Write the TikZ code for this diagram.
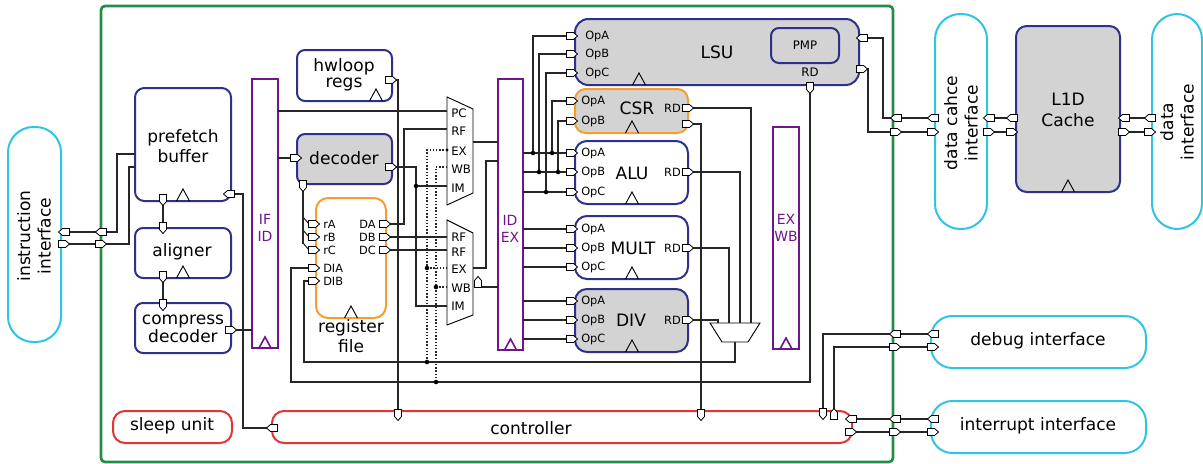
\documentclass[tikz,border=0pt]{standalone}
\usepackage{fontspec}
\setmainfont{DejaVu Sans}
\usetikzlibrary{fit}
\definecolor{cgreen}{RGB}{38,138,72}
\definecolor{cblue}{RGB}{46,49,140}
\definecolor{corange}{RGB}{247,157,48}
\definecolor{cred}{RGB}{226,52,52}
\definecolor{ccyan}{RGB}{48,196,228}
\definecolor{cpurp}{RGB}{112,20,140}
\definecolor{cgray}{RGB}{211,211,211}
\tikzset{
 blkbox/.style={draw=cblue, line width=1.5pt, rounded corners=7pt, inner sep=0pt, outer sep=0pt},
 grbox/.style={blkbox, fill=cgray},
 orbox/.style={blkbox, draw=corange},
 rdbox/.style={blkbox, draw=cred, rounded corners=9pt},
 cybox/.style={draw=ccyan, line width=1.5pt, inner sep=0pt, outer sep=0pt},
 prbox/.style={draw=cpurp, line width=1.9pt, inner sep=0pt, outer sep=0pt},
 wire/.style={draw=black!85, line width=0.8pt},
 dwire/.style={wire, dash pattern=on 1pt off 1.4pt},
 bigtxt/.style={font=\fontsize{12.8}{15.5}\selectfont, align=center, inner sep=0pt},
 tighttxt/.style={font=\fontsize{12.8}{12}\selectfont, align=center, inner sep=0pt},
 smtxt/.style={font=\fontsize{8.5}{9}\selectfont, inner sep=0pt},
 muxtxt/.style={font=\fontsize{8.8}{9}\selectfont, inner sep=0pt, anchor=west},
 regtxt/.style={font=\fontsize{10.5}{12.8}\selectfont, text=cpurp, align=center, inner sep=0pt},
 port/.pic={\draw[line width=0.6pt, fill=white, draw=black] (-5.5,-3.5) -- (1.5,-3.5) -- (5.5,0) -- (1.5,3.5) -- (-5.5,3.5) -- cycle;},
 clk/.pic={\draw[line width=0.7pt] (-6.5,0) -- (0,-12) -- (6.5,0);},
 pclk/.pic={\draw[draw=cpurp, line width=1.2pt] (-6,0) -- (0,-11) -- (6,0);},
}
\newcommand\portE[1]{\pic at (#1) {port};}
\newcommand\portW[1]{\pic[rotate=180] at (#1) {port};}
\newcommand\portS[1]{\pic[rotate=-90] at (#1) {port};}
\newcommand\portN[1]{\pic[rotate=90] at (#1) {port};}
\newcommand\jdot[1]{\fill (#1) circle[radius=1.7pt];}
\begin{document}
\begin{tikzpicture}[x=0.75pt,y=-0.75pt]
\useasboundingbox (0,0) rectangle (1203,464);

% ---------- boxes ----------
\node[fit={(101,6)(893,462)}, draw=cgreen, line width=2pt, rounded corners=3pt, inner sep=0pt, outer sep=0pt] (core) {};
\node[cybox, rounded corners=19pt, fit={(8,127)(61,342)}] (iif) {};
\node[blkbox, fit={(135,88)(231,201)}] (pref) {};
\node[blkbox, rounded corners=6pt, fit={(135,228)(231,278)}] (align) {};
\node[blkbox, rounded corners=6pt, fit={(135,303)(231,353)}] (cdec) {};
\node[prbox, fit={(252,79)(278,348)}] (ifid) {};
\node[blkbox, rounded corners=6pt, fit={(297,50)(392,101)}] (hwl) {};
\node[grbox, rounded corners=6pt, fit={(297,134)(392,184)}] (dec) {};
\node[orbox, rounded corners=9pt, fit={(316,198)(386,318)}] (rf) {};
\draw[line width=0.7pt, fill=white] (447,97) -- (473,109) -- (473,193) -- (447,205) -- cycle;
\coordinate (mux1) at (460,151);
\draw[line width=0.7pt, fill=white] (447,220) -- (473,233) -- (473,315) -- (447,325) -- cycle;
\coordinate (mux2) at (460,272);
\node[prbox, fit={(498,79)(523,350)}] (idex) {};
\node[grbox, rounded corners=10pt, fit={(575,19)(859,85)}] (lsu) {};
\node[grbox, rounded corners=6pt, fit={(771,28)(839,63)}] (pmp) {};
\node[orbox, fill=cgray, rounded corners=8pt, fit={(575,89)(688,133)}] (csr) {};
\node[blkbox, rounded corners=9pt, fit={(575,141)(688,204)}] (alu) {};
\node[blkbox, rounded corners=9pt, fit={(575,216)(688,279)}] (mult) {};
\node[grbox, rounded corners=9pt, fit={(575,289)(688,352)}] (div) {};
\draw[line width=0.7pt, fill=white] (710,323) -- (760,323) -- (748,342) -- (722,342) -- cycle;
\coordinate (wbmux) at (735,332);
\node[prbox, fit={(773,127)(799,349)}] (exwb) {};
\node[rdbox, fit={(272,411)(852,443)}] (ctrl) {};
\node[rdbox, fit={(113,411)(232,443)}] (sleep) {};
\node[cybox, rounded corners=16pt, fit={(931,316)(1146,368)}] (dbg) {};
\node[cybox, rounded corners=16pt, fit={(931,401)(1146,453)}] (irq) {};
\node[cybox, rounded corners=19pt, fit={(935,14)(987,229)}] (dci) {};
\node[grbox, rounded corners=8pt, fit={(1016,26)(1120,192)}] (l1d) {};
\node[cybox, rounded corners=19pt, fit={(1152,14)(1202,229)}] (dif) {};

% ---------- clocks ----------
\pic at (pref.south) {clk};
\pic at (align.south) {clk};
\pic at (376,101) {clk};
\pic at (rf.south) {clk};
\pic at (639,85) {clk};
\pic at (632,133) {clk};
\pic at (632,204) {clk};
\pic at (632,279) {clk};
\pic at (632,352) {clk};
\pic at (l1d.south) {clk};
\pic at (ifid.south) {pclk};
\pic at (idex.south) {pclk};
\pic at (exwb.south) {pclk};

% ---------- port coordinates ----------
\coordinate (ii1) at (64,232);  \coordinate (ii2) at (64,244);
\coordinate (gi1) at (101,232); \coordinate (gi2) at (101,244);
\coordinate (pfR) at (229,194); \coordinate (pfB) at (163,200);
\coordinate (alT) at (163,228); \coordinate (alB) at (163,277);
\coordinate (cdT) at (163,305); \coordinate (cdR) at (231,330);
\coordinate (decL) at (296,158); \coordinate (decR) at (391,167);
\coordinate (decB) at (303,186); \coordinate (hwR) at (391,80);
\coordinate (prA) at (314,224); \coordinate (prB) at (314,237); \coordinate (prC) at (314,250);
\coordinate (pDIA) at (314,268); \coordinate (pDIB) at (314,281);
\coordinate (pDA) at (385,224); \coordinate (pDB) at (385,237); \coordinate (pDC) at (385,250);
\coordinate (msel) at (478,282);
\coordinate (lA) at (572,36); \coordinate (lB) at (572,54); \coordinate (lC) at (572,73);
\coordinate (lO) at (862,38); \coordinate (lI) at (862,69); \coordinate (lRD) at (810,88);
\coordinate (cA) at (572,101); \coordinate (cB) at (572,121);
\coordinate (cRD) at (688,108); \coordinate (cX) at (688,124);
\coordinate (aA) at (572,153); \coordinate (aB) at (572,172); \coordinate (aC) at (572,192); \coordinate (aRD) at (688,172);
\coordinate (mA) at (572,229); \coordinate (mB) at (572,248); \coordinate (mC) at (572,267); \coordinate (mRD) at (688,248);
\coordinate (vA) at (572,301); \coordinate (vB) at (572,320); \coordinate (vC) at (572,339); \coordinate (vRD) at (688,320);
\coordinate (ct1) at (398,415); \coordinate (ct2) at (701,415);
\coordinate (ct3) at (823,414); \coordinate (ct4) at (834,414);
\coordinate (ctL) at (272,428);
\coordinate (ctR1) at (851,419); \coordinate (ctR2) at (851,432);
\coordinate (gd1) at (896,118); \coordinate (gd2) at (896,132);
\coordinate (gg1) at (895,334); \coordinate (gg2) at (895,347);
\coordinate (gq1) at (895,419); \coordinate (gq2) at (895,432);
\coordinate (dc1) at (933,118); \coordinate (dc2) at (933,132);
\coordinate (dc3) at (989,118); \coordinate (dc4) at (989,132);
\coordinate (la1) at (1012,118); \coordinate (la2) at (1012,132);
\coordinate (la3) at (1124,118); \coordinate (la4) at (1124,132);
\coordinate (di1) at (1150,118); \coordinate (di2) at (1150,132);
\coordinate (db1) at (933,334); \coordinate (db2) at (933,347);
\coordinate (iq1) at (933,419); \coordinate (iq2) at (933,432);

% ---------- wires ----------
\draw[wire] (pref.west |- 0,154) -- (117,154) -- (117,232) -- (ii1);
\draw[wire] (pref.west |- 0,167) -- (129,167) -- (129,244) -- (ii2);
\draw[wire] (pfB) -- (alT);
\draw[wire] (alB) -- (cdT);
\draw[wire] (cdR) -- (ifid.west |- cdR);
\draw[wire] (pfR) -- (243,194) -- (243,428) -- (ctL);
\draw[wire] (ifid.east |- decL) -- (decL);
\draw[wire] (ifid.east |- 0,111) -- (447,111);
\draw[wire] (hwR) -- (398,80) -- (ct1);
\draw[wire] (decR) -- (416,167) -- (416,306) -- (447,306);
\draw[wire] (416,186) -- (447,186);
\draw[wire] (decB) -- (303,244);
\draw[wire] (303,217) -- (309,224) -- (prA);
\draw[wire] (303,230) -- (309,237) -- (prB);
\draw[wire] (303,243) -- (309,250) -- (prC);
\draw[wire] (pDA) -- (404,224) -- (404,129) -- (447,129);
\draw[wire] (pDB) -- (447,237);
\draw[wire] (pDC) -- (447,250);
\draw[wire] (pDIA) -- (291,268) -- (291,382) -- (810,382) -- (lRD);
\draw[wire] (pDIB) -- (304,281) -- (304,362) -- (735,362) -- (735,342);
\draw[dwire] (447,150) -- (427,150) -- (427,362);
\draw[dwire] (427,268) -- (447,268);
\draw[dwire] (447,167) -- (436,167) -- (436,382);
\draw[dwire] (436,287) -- (447,287);
\draw[wire] (473,142) -- (idex.west |- 0,142);
\draw[wire] (473,268) -- (486,268) -- (486,161) -- (idex.west |- 0,161);
\draw[wire] (481,287) -- (idex.west |- 0,287);
\foreach \yy in {153,172,192,229,248,267,301,320,339}
  \draw[wire] (idex.east |- 0,\yy) -- (572,\yy);
\draw[wire] (lA) -- (533,36) -- (533,153);
\draw[wire] (lB) -- (539,54) -- (539,172);
\draw[wire] (lC) -- (546,73) -- (546,192);
\draw[wire] (cA) -- (552,101) -- (552,153);
\draw[wire] (cB) -- (558,121) -- (558,172);
\draw[wire] (cRD) -- (751,108) -- (751,323);
\draw[wire] (aRD) -- (740,172) -- (740,323);
\draw[wire] (mRD) -- (729,248) -- (729,323);
\draw[wire] (vRD) -- (718,320) -- (718,323);
\draw[wire] (cX) -- (701,124) -- (ct2);
\draw[wire] (lO) -- (883,38) -- (883,118) -- (dc1);
\draw[wire] (lI) -- (868,69) -- (868,132) -- (dc2);
\draw[wire] (dc3) -- (la1);
\draw[wire] (dc4) -- (la2);
\draw[wire] (la3) -- (di1);
\draw[wire] (la4) -- (di2);
\draw[wire] (db1) -- (823,334) -- (ct3);
\draw[wire] (db2) -- (834,347) -- (ct4);
\draw[wire] (ctR1) -- (iq1);
\draw[wire] (ctR2) -- (iq2);

% ---------- ports ----------
\portW{ii1} \portE{ii2} \portW{gi1} \portE{gi2}
\portW{pfR} \portS{pfB} \portS{alT} \portS{alB} \portS{cdT} \portE{cdR}
\portE{decL} \portE{decR} \portS{decB} \portE{hwR}
\portE{prA} \portE{prB} \portE{prC} \portE{pDIA} \portE{pDIB}
\portE{pDA} \portE{pDB} \portE{pDC}
\portN{msel}
\portE{lA} \portE{lB} \portE{lC} \portW{lO} \portE{lI} \portS{lRD}
\portE{cA} \portE{cB} \portE{cRD} \portE{cX}
\portE{aA} \portE{aB} \portE{aC} \portE{aRD}
\portE{mA} \portE{mB} \portE{mC} \portE{mRD}
\portE{vA} \portE{vB} \portE{vC} \portE{vRD}
\portS{ct1} \portS{ct2} \portS{ct3} \portN{ct4}
\portW{ctL} \portW{ctR1} \portE{ctR2}
\portW{gd1} \portE{gd2} \portW{gg1} \portE{gg2} \portW{gq1} \portE{gq2}
\portW{dc1} \portE{dc2} \portW{dc3} \portE{dc4}
\portW{la1} \portE{la2} \portW{la3} \portE{la4}
\portW{di1} \portE{di2}
\portW{db1} \portE{db2} \portW{iq1} \portE{iq2}

% ---------- dots ----------
\jdot{416,186} \jdot{427,268} \jdot{427,362} \jdot{436,287} \jdot{436,382}
\jdot{533,153} \jdot{552,153} \jdot{539,172} \jdot{558,172} \jdot{546,192}
\fill (447,150) circle[radius=1.2pt];

% ---------- labels ----------
\node[bigtxt, rotate=90] (tiif) at (34,236) {instruction\\interface};
\node[bigtxt] (tpref) at (183,146) {prefetch\\buffer};
\node[bigtxt] (talign) at (182,252) {aligner};
\node[tighttxt] (tcdec) at (183,329) {compress\\decoder};
\node[regtxt] (tifid) at (265,228) {IF\\ID};
\node[tighttxt] (thwl) at (344,75) {hwloop\\regs};
\node[bigtxt] (tdec) at (344,158) {decoder};
\node[bigtxt] (trf) at (351,336) {register\\file};
\node[regtxt] (tidex) at (510,229) {ID\\EX};
\node[regtxt] (texwb) at (786,228) {EX\\WB};
\node[bigtxt] (tlsu) at (717,52) {LSU};
\node[font=\fontsize{8.8}{9}\selectfont, inner sep=0pt] (tpmp) at (805,45) {PMP};
\node[font=\fontsize{8.8}{9}\selectfont, inner sep=0pt] (tlrd) at (810,72) {RD};
\node[bigtxt] (tcsr) at (637,108) {CSR};
\node[bigtxt] (talu) at (632,173) {ALU};
\node[bigtxt] (tmult) at (633,248) {MULT};
\node[bigtxt] (tdiv) at (631,320) {DIV};
\node[bigtxt] (tctrl) at (531,428) {controller};
\node[bigtxt] (tsleep) at (172,426) {sleep unit};
\node[bigtxt] (tdbg) at (1038,341) {debug interface};
\node[bigtxt] (tirq) at (1038,426) {interrupt interface};
\node[bigtxt, rotate=90] (tdci) at (961,123) {data cahce\\interface};
\node[bigtxt] (tl1d) at (1068,110) {L1D\\Cache};
\node[bigtxt, rotate=90] (tdif) at (1177,122) {data\\interface};

% port labels
\node[smtxt, anchor=west] (llA) at (585,36) {OpA};
\node[smtxt, anchor=west] (llB) at (585,54) {OpB};
\node[smtxt, anchor=west] (llC) at (585,73) {OpC};
\node[smtxt, anchor=west] (lcA) at (581,101) {OpA};
\node[smtxt, anchor=west] (lcB) at (581,121) {OpB};
\node[smtxt, anchor=east] (lcR) at (681,108) {RD};
\node[smtxt, anchor=west] (laA) at (581,153) {OpA};
\node[smtxt, anchor=west] (laB) at (581,172) {OpB};
\node[smtxt, anchor=west] (laC) at (581,192) {OpC};
\node[smtxt, anchor=east] (laR) at (681,172) {RD};
\node[smtxt, anchor=west] (lmA) at (581,229) {OpA};
\node[smtxt, anchor=west] (lmB) at (581,248) {OpB};
\node[smtxt, anchor=west] (lmC) at (581,267) {OpC};
\node[smtxt, anchor=east] (lmR) at (681,248) {RD};
\node[smtxt, anchor=west] (lvA) at (581,301) {OpA};
\node[smtxt, anchor=west] (lvB) at (581,320) {OpB};
\node[smtxt, anchor=west] (lvC) at (581,339) {OpC};
\node[smtxt, anchor=east] (lvR) at (681,320) {RD};
\node[smtxt, anchor=west] (lrA) at (323,224) {rA};
\node[smtxt, anchor=west] (lrB) at (323,237) {rB};
\node[smtxt, anchor=west] (lrC) at (323,250) {rC};
\node[smtxt, anchor=west] (lrDIA) at (323,268) {DIA};
\node[smtxt, anchor=west] (lrDIB) at (323,281) {DIB};
\node[smtxt, anchor=east] (lrDA) at (376,224) {DA};
\node[smtxt, anchor=east] (lrDB) at (376,237) {DB};
\node[smtxt, anchor=east] (lrDC) at (376,250) {DC};
% mux labels
\node[muxtxt] (m1a) at (451,113) {PC};
\node[muxtxt] (m1b) at (451,131) {RF};
\node[muxtxt] (m1c) at (451,151) {EX};
\node[muxtxt] (m1d) at (451,169) {WB};
\node[muxtxt] (m1e) at (451,188) {IM};
\node[muxtxt] (m2a) at (451,237) {RF};
\node[muxtxt] (m2b) at (451,252) {RF};
\node[muxtxt] (m2c) at (451,269) {EX};
\node[muxtxt] (m2d) at (451,288) {WB};
\node[muxtxt] (m2e) at (451,306) {IM};
\end{tikzpicture}
\end{document}
